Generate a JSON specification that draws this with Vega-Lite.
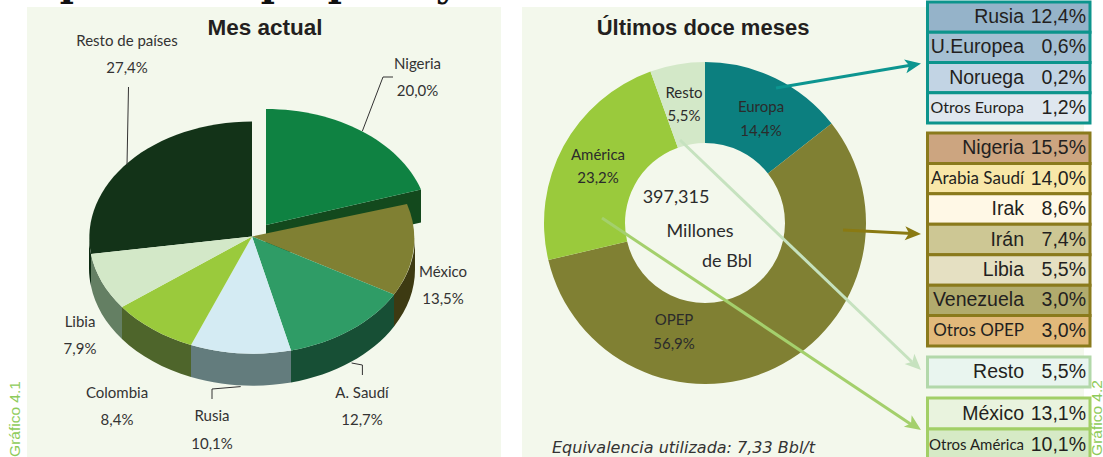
{
"$schema":"https://vega.github.io/schema/vega-lite/v6.json",
"width":1103,"height":457,"padding":0,"autosize":{"type":"none"},"background":"#ffffff",
"config":{"axis":{"disable":true},"legend":{"disable":true},"view":{"stroke":null}},
"resolve":{"scale":{"y":"independent","color":"independent","shape":"independent"}},
"data":{"values":[{}]},
"layer":[
{"layer":[
 {"mark":{"type":"rect","fill":"#f3f8ec"},"encoding":{"x":{"datum":27,"scale":{"domain":[0,1103],"nice":false,"zero":false}},"x2":{"datum":501},"y":{"datum":7,"scale":{"domain":[0,457],"reverse":true,"nice":false,"zero":false}},"y2":{"datum":457}}},
 {"mark":{"type":"rect","fill":"#f3f8ec"},"encoding":{"x":{"datum":522},"x2":{"datum":1084},"y":{"datum":7},"y2":{"datum":457}}}
]},
{"data":{"values":[{"pais":"Resto de países","valor":27.4},{"pais":"Nigeria","valor":20.0},{"pais":"México","valor":13.5},{"pais":"A. Saudí","valor":12.7},{"pais":"Rusia","valor":10.1},{"pais":"Colombia","valor":8.4},{"pais":"Libia","valor":7.9}]},
 "mark":{"type":"point","filled":true,"size":4,"opacity":1},
 "encoding":{"x":{"datum":252},"y":{"datum":236.5,"scale":{"domain":[0,457],"reverse":true,"nice":false,"zero":false}},
 "shape":{"field":"pais","type":"nominal","scale":{"domain":["Resto de países","Nigeria","México","A. Saudí","Rusia","Colombia","Libia"],"range":[
 "M-163,0A163,116 0 0 0 -161,17.5L-161,49.5A163,116 0 0 1 -163,32Z",
 "M14,-11.5L169,-47L169,-14L14,21Z",
 "M163,0A163,116 0 0 1 142,58L142,90A163,116 0 0 0 163,32Z",
 "M142,58A163,116 0 0 1 39,114L39,146A163,116 0 0 0 142,90Z",
 "M39,114A163,116 0 0 1 -61,108.5L-61,140.5A163,116 0 0 0 39,146Z",
 "M-61,108.5A163,116 0 0 1 -130,70.5L-130,102.5A163,116 0 0 0 -61,140.5Z",
 "M-130,70.5A163,116 0 0 1 -161,17.5L-161,49.5A163,116 0 0 0 -130,102.5Z"]}},
 "color":{"field":"pais","type":"nominal","scale":{"domain":["Resto de países","Nigeria","México","A. Saudí","Rusia","Colombia","Libia"],"range":["#0c2a12","#13491d","#3d3a12","#174f35","#637c7d","#4e652b","#647f63"]}}}},
{"data":{"values":[{"pais":"Resto de países","valor":27.4},{"pais":"Nigeria","valor":20.0},{"pais":"México","valor":13.5},{"pais":"A. Saudí","valor":12.7},{"pais":"Rusia","valor":10.1},{"pais":"Colombia","valor":8.4},{"pais":"Libia","valor":7.9}]},
 "mark":{"type":"point","filled":true,"size":4,"opacity":1},
 "encoding":{"x":{"datum":252},"y":{"datum":236.5,"scale":{"domain":[0,457],"reverse":true,"nice":false,"zero":false}},
 "shape":{"field":"pais","type":"nominal","scale":{"domain":["Resto de países","Nigeria","México","A. Saudí","Rusia","Colombia","Libia"],"range":[
 "M0,0L-161,17.5A163,116 0 0 1 0,-115Z",
 "M14,-11.5L14,-127.5A163,116 0 0 1 169,-47Z",
 "M0,0L155,-32.5A163,116 0 0 1 142,58Z",
 "M0,0L142,58A163,116 0 0 1 39,114Z",
 "M0,0L39,114A163,116 0 0 1 -61,108.5Z",
 "M0,0L-61,108.5A163,116 0 0 1 -130,70.5Z",
 "M0,0L-130,70.5A163,116 0 0 1 -161,17.5Z"]}},
 "color":{"field":"pais","type":"nominal","scale":{"domain":["Resto de países","Nigeria","México","A. Saudí","Rusia","Colombia","Libia"],"range":["#133318","#0f8242","#808033","#2f9c66","#d4ebf3","#9aca3c","#d3e8c8"]}}}},
{"data":{"values":[{"region":"Europa","valor":14.4,"n":1},{"region":"OPEP","valor":56.9,"n":2},{"region":"América","valor":23.2,"n":3},{"region":"Resto","valor":5.5,"n":4}]},
 "mark":{"type":"arc","outerRadius":161,"innerRadius":80},
 "encoding":{"x":{"datum":705},"y":{"datum":223,"scale":{"domain":[0,457],"reverse":true,"nice":false,"zero":false}},
 "theta":{"field":"valor","type":"quantitative","stack":true},"order":{"field":"n"},
 "color":{"field":"region","type":"nominal","scale":{"domain":["Europa","OPEP","América","Resto"],"range":["#0c7f7f","#808033","#9aca3c","#d3e8c8"]}}}},
{"layer":[
 {"mark":{"type":"text","text":"p","font":"DejaVu Serif","fontWeight":"bold","fontSize":38,"baseline":"alphabetic","dy":-4,"fill":"#111111"},"encoding":{"x":{"datum":73},"y":{"datum":0,"scale":{"domain":[0,457],"reverse":true,"nice":false,"zero":false}}}},
 {"mark":{"type":"text","text":"p","font":"DejaVu Serif","fontWeight":"bold","fontSize":38,"baseline":"alphabetic","dy":-4,"fill":"#111111"},"encoding":{"x":{"datum":274},"y":{"datum":0}}},
 {"mark":{"type":"text","text":"p","font":"DejaVu Serif","fontWeight":"bold","fontSize":38,"baseline":"alphabetic","dy":-4,"fill":"#111111"},"encoding":{"x":{"datum":341},"y":{"datum":0}}},
 {"mark":{"type":"text","text":"y","font":"DejaVu Serif","fontWeight":"bold","fontSize":38,"baseline":"alphabetic","dy":-4,"fill":"#111111"},"encoding":{"x":{"datum":447},"y":{"datum":0}}},
 {"mark":{"type":"text","text":"Mes actual","font":"Liberation Sans","fontWeight":"bold","fontSize":22.5,"fill":"#231f20"},"encoding":{"x":{"datum":265},"y":{"datum":28}}},
 {"mark":{"type":"text","text":"Últimos doce meses","font":"Liberation Sans","fontWeight":"bold","fontSize":22,"fill":"#231f20"},"encoding":{"x":{"datum":703},"y":{"datum":28}}},
 {"mark":{"type":"rule","stroke":"#333333","strokeWidth":1},"encoding":{"x":{"datum":128.5},"y":{"datum":87},"x2":{"datum":127},"y2":{"datum":165}}},
 {"mark":{"type":"rule","stroke":"#333333","strokeWidth":1},"encoding":{"x":{"datum":393},"y":{"datum":77},"x2":{"datum":383},"y2":{"datum":77}}},
 {"mark":{"type":"rule","stroke":"#333333","strokeWidth":1},"encoding":{"x":{"datum":383},"y":{"datum":77},"x2":{"datum":362.4},"y2":{"datum":131}}},
 {"mark":{"type":"rule","stroke":"#333333","strokeWidth":1},"encoding":{"x":{"datum":351.6},"y":{"datum":363},"x2":{"datum":362.4},"y2":{"datum":365}}},
 {"mark":{"type":"rule","stroke":"#333333","strokeWidth":1},"encoding":{"x":{"datum":362.4},"y":{"datum":365},"x2":{"datum":362.4},"y2":{"datum":375}}},
 {"mark":{"type":"rule","stroke":"#333333","strokeWidth":1},"encoding":{"x":{"datum":240.7},"y":{"datum":386.6},"x2":{"datum":212},"y2":{"datum":389}}},
 {"mark":{"type":"rule","stroke":"#333333","strokeWidth":1},"encoding":{"x":{"datum":212},"y":{"datum":389},"x2":{"datum":212},"y2":{"datum":399}}},
 {"mark":{"type":"rule","stroke":"#0c9590","strokeWidth":3},"encoding":{"x":{"datum":776},"y":{"datum":88},"x2":{"datum":912},"y2":{"datum":65}}},
 {"mark":{"type":"point","filled":true,"opacity":1,"size":4,"fill":"#0c9590","angle":350,"shape":"M0,0L-16,-7L-12,0L-16,7Z"},"encoding":{"x":{"datum":921},"y":{"datum":63.5}}},
 {"mark":{"type":"rule","stroke":"#8a7a12","strokeWidth":3},"encoding":{"x":{"datum":843},"y":{"datum":230},"x2":{"datum":912},"y2":{"datum":233.5}}},
 {"mark":{"type":"point","filled":true,"opacity":1,"size":4,"fill":"#8a7a12","angle":3,"shape":"M0,0L-16,-7L-12,0L-16,7Z"},"encoding":{"x":{"datum":921},"y":{"datum":234}}},
 {"mark":{"type":"rule","stroke":"#c6e2bf","strokeWidth":3},"encoding":{"x":{"datum":680},"y":{"datum":140},"x2":{"datum":912},"y2":{"datum":362}}},
 {"mark":{"type":"point","filled":true,"opacity":1,"size":4,"fill":"#c6e2bf","angle":44,"shape":"M0,0L-16,-7L-12,0L-16,7Z"},"encoding":{"x":{"datum":921},"y":{"datum":370}}},
 {"mark":{"type":"rule","stroke":"#a4d06c","strokeWidth":3},"encoding":{"x":{"datum":602},"y":{"datum":218},"x2":{"datum":912},"y2":{"datum":425}}},
 {"mark":{"type":"point","filled":true,"opacity":1,"size":4,"fill":"#a4d06c","angle":34,"shape":"M0,0L-16,-7L-12,0L-16,7Z"},"encoding":{"x":{"datum":921},"y":{"datum":430}}},
 {"mark":{"type":"text","text":["Resto de países","27,4%"],"font":"Lato","fontSize":15,"lineHeight":27,"fill":"#333333"},"encoding":{"x":{"datum":127},"y":{"datum":40.5}}},
 {"mark":{"type":"text","text":["Nigeria","20,0%"],"font":"Lato","fontSize":15,"lineHeight":27,"fill":"#333333"},"encoding":{"x":{"datum":417.5},"y":{"datum":63.5}}},
 {"mark":{"type":"text","text":["México","13,5%"],"font":"Lato","fontSize":15,"lineHeight":27,"fill":"#333333"},"encoding":{"x":{"datum":443},"y":{"datum":272}}},
 {"mark":{"type":"text","text":["Libia","7,9%"],"font":"Lato","fontSize":15,"lineHeight":27,"fill":"#333333"},"encoding":{"x":{"datum":80},"y":{"datum":322}}},
 {"mark":{"type":"text","text":["Colombia","8,4%"],"font":"Lato","fontSize":15,"lineHeight":27,"fill":"#333333"},"encoding":{"x":{"datum":117},"y":{"datum":393}}},
 {"mark":{"type":"text","text":["Rusia","10,1%"],"font":"Lato","fontSize":15,"lineHeight":28,"fill":"#333333"},"encoding":{"x":{"datum":212},"y":{"datum":416}}},
 {"mark":{"type":"text","text":["A. Saudí","12,7%"],"font":"Lato","fontSize":15,"lineHeight":27,"fill":"#333333"},"encoding":{"x":{"datum":362},"y":{"datum":393}}},
 {"mark":{"type":"text","text":["Europa","14,4%"],"font":"Lato","fontSize":15,"lineHeight":24,"fill":"#2b2b2b"},"encoding":{"x":{"datum":761},"y":{"datum":107}}},
 {"mark":{"type":"text","text":["Resto","5,5%"],"font":"Lato","fontSize":15,"lineHeight":23,"fill":"#2b2b2b"},"encoding":{"x":{"datum":684},"y":{"datum":93}}},
 {"mark":{"type":"text","text":["América","23,2%"],"font":"Lato","fontSize":15,"lineHeight":23,"fill":"#2b2b2b"},"encoding":{"x":{"datum":598},"y":{"datum":155}}},
 {"mark":{"type":"text","text":["OPEP","56,9%"],"font":"Lato","fontSize":15,"lineHeight":24,"fill":"#2b2b2b"},"encoding":{"x":{"datum":674},"y":{"datum":320}}},
 {"mark":{"type":"text","text":"397,315","font":"Lato","fontSize":18,"fill":"#2b2b2b"},"encoding":{"x":{"datum":676},"y":{"datum":198}}},
 {"mark":{"type":"text","text":"Millones","font":"Lato","fontSize":18,"fill":"#2b2b2b"},"encoding":{"x":{"datum":700},"y":{"datum":232}}},
 {"mark":{"type":"text","text":"de Bbl","font":"Lato","fontSize":18,"fill":"#2b2b2b"},"encoding":{"x":{"datum":727},"y":{"datum":262}}},
 {"mark":{"type":"text","text":"Equivalencia utilizada: 7,33 Bbl/t","font":"DejaVu Sans","fontStyle":"italic","fontSize":16,"align":"left","fill":"#333333"},"encoding":{"x":{"datum":552},"y":{"datum":448}}},
 {"mark":{"type":"text","text":"Gráfico 4.1","font":"Liberation Sans","fontSize":15.5,"angle":270,"fill":"#8ecb5a"},"encoding":{"x":{"datum":14.5},"y":{"datum":419}}},
 {"mark":{"type":"text","text":"Gráfico 4.2","font":"Liberation Sans","fontSize":15.5,"angle":270,"fill":"#8ecb5a"},"encoding":{"x":{"datum":1097},"y":{"datum":418}}}
]},
{"data":{"values":[{"pais":"Rusia","rotulo":"12,4%"},{"pais":"U.Europea","rotulo":"0,6%"},{"pais":"Noruega","rotulo":"0,2%"},{"pais":"Otros Europa","rotulo":"1,2%"}]},
 "encoding":{"y":{"field":"pais","type":"nominal","sort":null,"scale":{"domain":["Rusia","U.Europea","Noruega","Otros Europa"],"range":[2,123],"paddingInner":0,"paddingOuter":0}}},
 "layer":[
 {"mark":{"type":"rect","stroke":"#0c948c","strokeWidth":3},"encoding":{"x":{"datum":927.5},"x2":{"datum":1090},"color":{"field":"pais","type":"nominal","scale":{"domain":["Rusia","U.Europea","Noruega","Otros Europa"],"range":["#95b3c9","#a5c0d3","#c2d4e4","#dfe7ef"]}}}},
 {"transform":[{"filter":{"not":{"field":"pais","equal":"Otros Europa"}}}],"mark":{"type":"text","font":"Liberation Sans","fontSize":19.5,"align":"right","fill":"#231f20"},"encoding":{"x":{"datum":1024},"text":{"field":"pais"}}},
 {"transform":[{"filter":{"field":"pais","equal":"Otros Europa"}}],"mark":{"type":"text","font":"Lato","fontSize":16,"align":"right","fill":"#231f20"},"encoding":{"x":{"datum":1024},"text":{"field":"pais"}}},
 {"mark":{"type":"text","font":"Liberation Sans","fontSize":19.5,"align":"right","fill":"#231f20"},"encoding":{"x":{"datum":1086},"text":{"field":"rotulo"}}}
]},
{"data":{"values":[{"pais":"Nigeria","rotulo":"15,5%"},{"pais":"Arabia Saudí","rotulo":"14,0%"},{"pais":"Irak","rotulo":"8,6%"},{"pais":"Irán","rotulo":"7,4%"},{"pais":"Libia","rotulo":"5,5%"},{"pais":"Venezuela","rotulo":"3,0%"},{"pais":"Otros OPEP","rotulo":"3,0%"}]},
 "encoding":{"y":{"field":"pais","type":"nominal","sort":null,"scale":{"domain":["Nigeria","Arabia Saudí","Irak","Irán","Libia","Venezuela","Otros OPEP"],"range":[133,346],"paddingInner":0,"paddingOuter":0}}},
 "layer":[
 {"mark":{"type":"rect","stroke":"#8a7a1c","strokeWidth":3},"encoding":{"x":{"datum":927.5},"x2":{"datum":1090},"color":{"field":"pais","type":"nominal","scale":{"domain":["Nigeria","Arabia Saudí","Irak","Irán","Libia","Venezuela","Otros OPEP"],"range":["#cca580","#f8e7a8","#fff8e6","#cdc794","#e5e0c2","#b1ab6d","#e2b97a"]}}}},
 {"transform":[{"filter":{"not":{"field":"pais","oneOf":["Arabia Saudí","Otros OPEP"]}}}],"mark":{"type":"text","font":"Liberation Sans","fontSize":19.5,"align":"right","fill":"#231f20"},"encoding":{"x":{"datum":1024},"text":{"field":"pais"}}},
 {"transform":[{"filter":{"field":"pais","oneOf":["Arabia Saudí","Otros OPEP"]}}],"mark":{"type":"text","font":"Lato","fontSize":17,"align":"right","fill":"#231f20"},"encoding":{"x":{"datum":1024},"text":{"field":"pais"}}},
 {"mark":{"type":"text","font":"Liberation Sans","fontSize":19.5,"align":"right","fill":"#231f20"},"encoding":{"x":{"datum":1086},"text":{"field":"rotulo"}}}
]},
{"data":{"values":[{"pais":"Resto","rotulo":"5,5%"}]},
 "encoding":{"y":{"field":"pais","type":"nominal","sort":null,"scale":{"domain":["Resto"],"range":[357,387],"paddingInner":0,"paddingOuter":0}}},
 "layer":[
 {"mark":{"type":"rect","stroke":"#b2d8aa","strokeWidth":3,"fill":"#e9f5ef"},"encoding":{"x":{"datum":927.5},"x2":{"datum":1090}}},
 {"mark":{"type":"text","font":"Liberation Sans","fontSize":19.5,"align":"right","fill":"#231f20"},"encoding":{"x":{"datum":1024},"text":{"field":"pais"}}},
 {"mark":{"type":"text","font":"Liberation Sans","fontSize":19.5,"align":"right","fill":"#231f20"},"encoding":{"x":{"datum":1086},"text":{"field":"rotulo"}}}
]},
{"data":{"values":[{"pais":"México","rotulo":"13,1%"},{"pais":"Otros América","rotulo":"10,1%"}]},
 "encoding":{"y":{"field":"pais","type":"nominal","sort":null,"scale":{"domain":["México","Otros América"],"range":[398,460],"paddingInner":0,"paddingOuter":0}}},
 "layer":[
 {"mark":{"type":"rect","stroke":"#a2cf66","strokeWidth":3},"encoding":{"x":{"datum":927.5},"x2":{"datum":1090},"color":{"field":"pais","type":"nominal","scale":{"domain":["México","Otros América"],"range":["#e9f3de","#d6eac6"]}}}},
 {"transform":[{"filter":{"field":"pais","equal":"México"}}],"mark":{"type":"text","font":"Liberation Sans","fontSize":19.5,"align":"right","fill":"#231f20"},"encoding":{"x":{"datum":1024},"text":{"field":"pais"}}},
 {"transform":[{"filter":{"field":"pais","equal":"Otros América"}}],"mark":{"type":"text","font":"Lato","fontSize":15,"align":"right","fill":"#231f20"},"encoding":{"x":{"datum":1024},"text":{"field":"pais"}}},
 {"mark":{"type":"text","font":"Liberation Sans","fontSize":19.5,"align":"right","fill":"#231f20"},"encoding":{"x":{"datum":1086},"text":{"field":"rotulo"}}}
]}
]
}
